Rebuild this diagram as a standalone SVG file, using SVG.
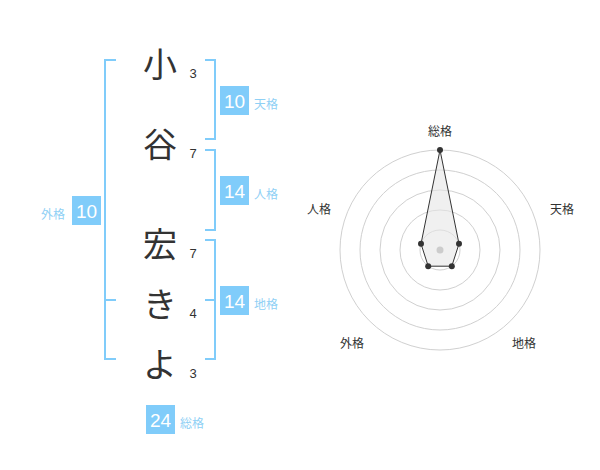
<svg xmlns="http://www.w3.org/2000/svg" width="600" height="470" viewBox="0 0 600 470">
<style>
.ch{font-family:"Noto Sans CJK JP","Noto Sans",sans-serif;font-size:34px;fill:#333;text-anchor:middle;dominant-baseline:central}
.num{font-family:"Liberation Sans","Noto Sans",sans-serif;font-size:13px;fill:#333;text-anchor:middle;dominant-baseline:central}
.br{fill:none;stroke:#80ccfa;stroke-width:2}
.box{fill:#80ccfa}
.bv{font-family:"Liberation Sans","Noto Sans",sans-serif;font-size:19px;fill:#fff;text-anchor:middle;dominant-baseline:central}
.bl{font-family:"Noto Sans CJK JP","Noto Sans",sans-serif;font-size:12px;fill:#8fd0f5;dominant-baseline:central}
.ring{fill:none;stroke:#d0d0d0;stroke-width:1}
.rl{font-family:"Noto Sans CJK JP","Noto Sans",sans-serif;font-size:12px;fill:#333;text-anchor:middle;dominant-baseline:central}
.dot{fill:#333}
</style>
<rect width="600" height="470" fill="#fff"/>
<g id="chars">
<text class="ch" x="160" y="62">小</text>
<text class="ch" x="160" y="142">谷</text>
<text class="ch" x="160" y="242">宏</text>
<text class="ch" x="160" y="302">き</text>
<text class="ch" x="160" y="362">よ</text>
</g>
<g id="strokes">
<text class="num" x="193" y="73">3</text>
<text class="num" x="193" y="153">7</text>
<text class="num" x="193" y="253">7</text>
<text class="num" x="193" y="313">4</text>
<text class="num" x="193" y="373">3</text>
</g>
<g id="connectors">
<path class="br" d="M116,60 H105 V359 H116 M105,300 H116"/>
<path class="br" d="M205,60 H215 V139 H205"/>
<path class="br" d="M205,150 H215 V230 H205"/>
<path class="br" d="M205,240 H215 V359 H205 M205,300 H215"/>
</g>
<g id="tenkaku">
<rect class="box" x="220" y="86" width="29" height="29"/>
<text class="bv" x="234.5" y="101">10</text>
<text class="bl" x="254" y="103">天格</text>
</g>
<g id="jinkaku">
<rect class="box" x="220" y="176" width="29" height="29"/>
<text class="bv" x="234.5" y="191">14</text>
<text class="bl" x="254" y="193">人格</text>
</g>
<g id="chikaku">
<rect class="box" x="220" y="286" width="29" height="29"/>
<text class="bv" x="234.5" y="301">14</text>
<text class="bl" x="254" y="303">地格</text>
</g>
<g id="gaikaku">
<rect class="box" x="72" y="196" width="29" height="29"/>
<text class="bv" x="86.5" y="211">10</text>
<text class="bl" x="41" y="213">外格</text>
</g>
<g id="soukaku">
<rect class="box" x="146" y="405" width="29" height="29"/>
<text class="bv" x="160.5" y="420">24</text>
<text class="bl" x="180" y="422">総格</text>
</g>
<g id="radar">
<circle class="ring" cx="440" cy="250" r="20"/>
<circle class="ring" cx="440" cy="250" r="40"/>
<circle class="ring" cx="440" cy="250" r="60"/>
<circle class="ring" cx="440" cy="250" r="80"/>
<circle class="ring" cx="440" cy="250" r="100"/>
<polygon points="440,150 459,243.8 451.8,266.2 428.2,266.2 421,243.8" fill="#e6e6e6" fill-opacity="0.6" stroke="#333" stroke-width="1"/>
<circle cx="440" cy="250" r="3.5" fill="#ccc"/>
<circle class="dot" cx="440" cy="150" r="3"/>
<circle class="dot" cx="459" cy="243.8" r="3"/>
<circle class="dot" cx="451.8" cy="266.2" r="3"/>
<circle class="dot" cx="428.2" cy="266.2" r="3"/>
<circle class="dot" cx="421" cy="243.8" r="3"/>
<text class="rl" x="440" y="130">総格</text>
<text class="rl" x="562" y="208">天格</text>
<text class="rl" x="319" y="208">人格</text>
<text class="rl" x="352" y="342">外格</text>
<text class="rl" x="524" y="342">地格</text>
</g>
</svg>
